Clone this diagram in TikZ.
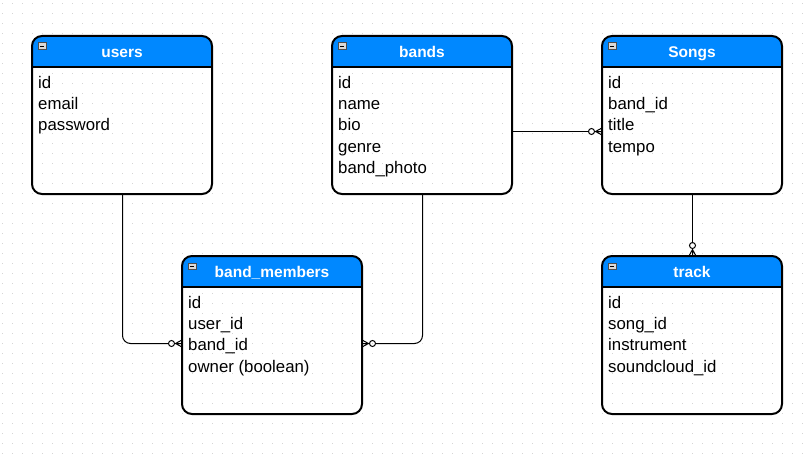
\documentclass[tikz,border=0pt]{standalone}
\usepackage{fontspec}
\setmainfont{Liberation Sans}
\usepackage{tikz}
\usetikzlibrary{calc}
\usetikzlibrary{arrows.meta}

% zero-or-many end (circle + crow's foot)
\pgfdeclarearrow{
  name = zeromany,
  setup code = {
    \pgfarrowssettipend{0pt}
    \pgfarrowssetlineend{-13.5pt}
    \pgfarrowssetbackend{-13.5pt}
    \pgfarrowssetvisualbackend{-13.5pt}
    \pgfarrowshullpoint{0pt}{3.5pt}
    \pgfarrowshullpoint{0pt}{-3.5pt}
    \pgfarrowshullpoint{-13.5pt}{0pt}
  },
  drawing code = {
    \pgfpathmoveto{\pgfpoint{0pt}{3.5pt}}
    \pgfpathlineto{\pgfpoint{-6.5pt}{0pt}}
    \pgfpathlineto{\pgfpoint{0pt}{-3.5pt}}
    \pgfpathmoveto{\pgfpoint{-7.5pt}{0pt}}
    \pgfpathlineto{\pgfpoint{0pt}{0pt}}
    \pgfpathcircle{\pgfpoint{-10.5pt}{0pt}}{3pt}
    \pgfusepathqstroke
  },
  parameters = {},
}

\definecolor{hdrblue}{RGB}{0,136,255}
\definecolor{dotgray}{RGB}{212,212,212}

\tikzset{
  tbl/.style={minimum width=180pt, minimum height=158pt, inner sep=0pt, outer sep=0pt},
  border/.style={black, line width=2pt},
  ttl/.style={anchor=base, text=white, font=\fontsize{15.5}{18}\selectfont\bfseries},
  field/.style={anchor=base west, inner sep=0pt, font=\fontsize{16.8}{20}\selectfont},
  iconbox/.style={draw=black!70, fill=black!15, line width=0.6pt},
  rel/.style={black, line width=1pt, -{zeromany}},
  dotgrid/.style={dotgray, line width=1pt, dash pattern=on 1pt off 9pt}
}

\begin{document}
\begin{tikzpicture}[x=1pt, y=-1pt]

    \useasboundingbox (0,0) rectangle (812,460);
    \fill[white] (0,0) rectangle (812,460);

    % Dotted background grid
    \foreach \y in {3.5,13.5,...,453.5}
        \draw[dotgrid] (2,\y) -- (812,\y);

    % Tables
    \node[tbl] (users) at (122,115) {};
    \node[tbl] (bands) at (422,115) {};
    \node[tbl] (songs) at (692,115) {};
    \node[tbl] (bm) at (272,335) {};
    \node[tbl] (track) at (692,335) {};

    % Headers, borders & titles
    \foreach \n/\t in {users/users, bands/bands, songs/Songs, bm/band\_members, track/track} {
        \begin{scope}
            \clip[rounded corners=10pt] (\n.north west) rectangle (\n.south east);
            \fill[hdrblue] (\n.north west) rectangle ($(\n.north east)+(0,31)$);
        \end{scope}
        \draw[border, rounded corners=10pt] (\n.north west) rectangle (\n.south east);
        \draw[border] ($(\n.north west)+(0,31)$) -- ($(\n.north east)+(0,31)$);
        \draw[iconbox] ($(\n.north west)+(6.3,6.8)$) rectangle +(8,6.5);
        \draw[black, line width=0.8pt] ($(\n.north west)+(8.3,10)$) -- +(4,0);
        \node[ttl] at ($(\n.north)+(0,21.5)$) {\t};
    }

    % Fields
    \foreach \n/\fields in {users/{id,email,password},
                            bands/{id,name,bio,genre,band\_photo},
                            songs/{id,band\_id,title,tempo},
                            bm/{id,user\_id,band\_id,owner (boolean)},
                            track/{id,song\_id,instrument,soundcloud\_id}} {
        \foreach \f [count=\i] in \fields
            \node[field] at ($(\n.north west)+(6,{52.5+21.2*(\i-1)})$) {\f};
    }

    % Relations
    \coordinate (bmuser) at ($(bm.north west)+(0,87.5)$);
    \coordinate (bmband) at ($(bm.north east)+(0,87.5)$);
    \coordinate (songsband) at ($(songs.north west)+(0,95.5)$);

    \draw[rel, rounded corners=8pt] ([xshift=0.5pt]users.south) |- (bmuser);
    \draw[rel, rounded corners=8pt] ([xshift=0.5pt]bands.south) |- (bmband);
    \draw[rel] (bands.east |- songsband) -- (songsband);
    \draw[rel] ([xshift=0.5pt]songs.south) -- ([xshift=0.5pt]track.north);

\end{tikzpicture}
\end{document}
